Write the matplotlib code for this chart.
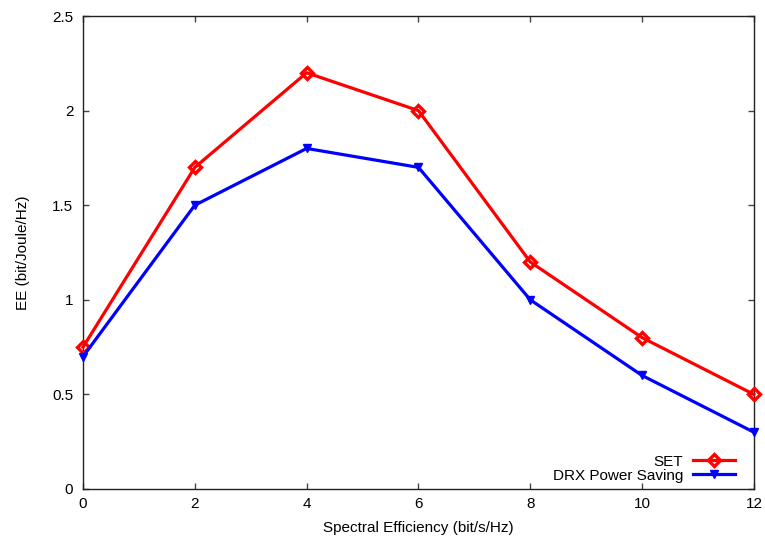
import matplotlib
matplotlib.use("Agg")
import matplotlib.pyplot as plt

plt.rcParams['font.family'] = ['Liberation Sans', 'DejaVu Sans']

x = [0, 2, 4, 6, 8, 10, 12]
set_ee = [0.75, 1.7, 2.2, 2.0, 1.2, 0.8, 0.5]
drx_ee = [0.7, 1.5, 1.8, 1.7, 1.0, 0.6, 0.3]
yticks = [0, 0.5, 1, 1.5, 2, 2.5]
ylabels = ['0', '0.5', '1', '1.5', '2', '2.5']

fig = plt.figure(figsize=(7.65, 5.37), dpi=100)
ax = fig.add_axes([0.1085, 0.0894, 0.877, 0.8808])

ax.plot(x, set_ee, color='#ff0000', lw=2.3, marker='D', ms=6.5, mfc='none',
        mec='#ff0000', mew=2.4, label='SET', clip_on=False, zorder=3)
ax.plot(x, drx_ee, color='#0000ff', lw=2.3, marker='v', ms=6,
        label='DRX Power Saving', clip_on=False, zorder=3)

ax.set_xlim(0, 12)
ax.set_ylim(0, 2.5)
ax.set_xticks(x)
ax.set_yticks(yticks)
ax.set_yticklabels(ylabels)
ax.tick_params(direction='in', length=4.5, width=1, color='#444444',
               top=True, right=True, labelsize=11)
ax.tick_params(axis='y', pad=7)
ax.tick_params(axis='x', pad=6)
for s in ax.spines.values():
    s.set_linewidth(1.0)
    s.set_color('#222222')

ax.set_xlabel('Spectral Efficiency (bit/s/Hz)', fontsize=11, labelpad=7)
ax.set_ylabel('EE (bit/Joule/Hz)', fontsize=11, labelpad=16)

ax.legend(loc='lower right', bbox_to_anchor=(0.9717, 0.0137), frameon=False,
          markerfirst=False, fontsize=11, handlelength=2.75, handletextpad=0.65,
          labelspacing=0.0, borderpad=0, borderaxespad=0)

fig.savefig('out.png', dpi=100)
